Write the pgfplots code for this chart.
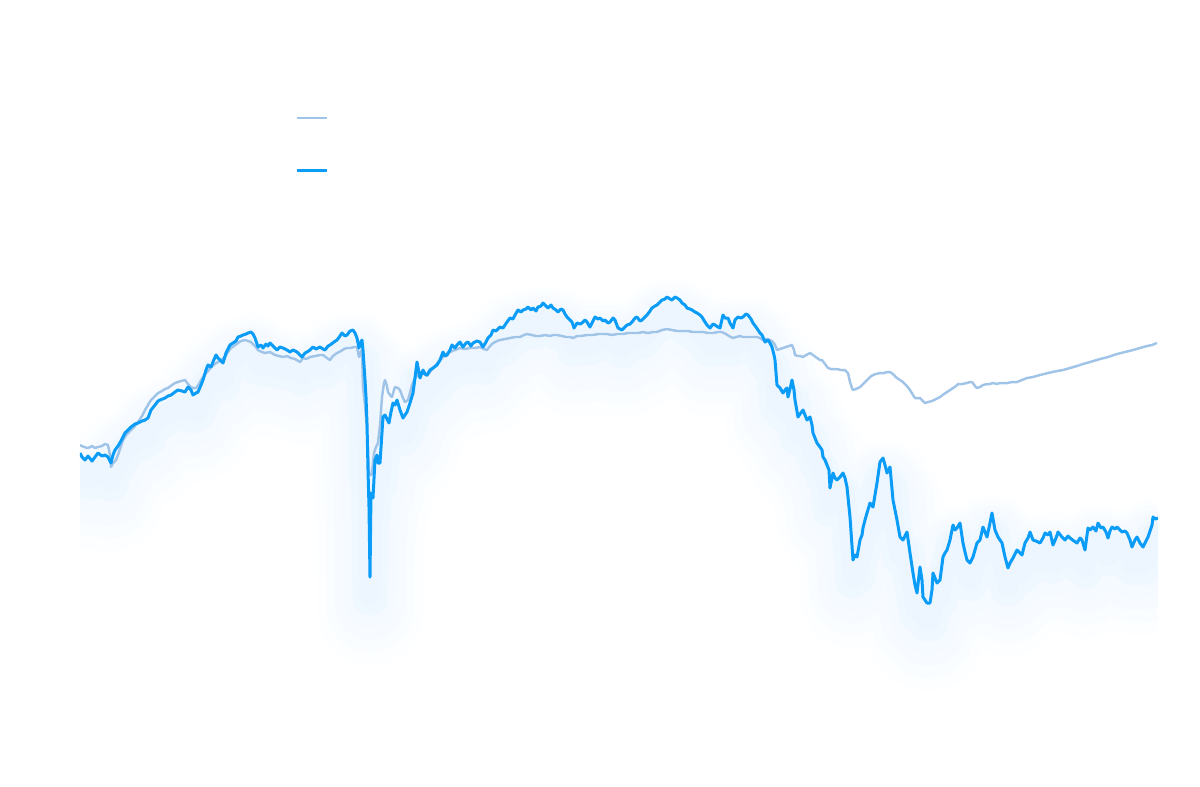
\documentclass[border=0pt]{standalone}
\usepackage{pgfplots}
\usepackage{pgfplotstable}
\pgfplotsset{compat=1.18}
\definecolor{mainblue}{RGB}{10,156,246}
\definecolor{lightblue}{RGB}{160,196,232}
\definecolor{glow}{RGB}{60,160,250}
\pgfplotstableread{
x y
80 453
82 457
85 460
88 456
92 461
95 457
98 453
102 456
105 455
108 457
111 463
113 455
115 450
118 446
121 441
125 433
128 430
131 427
135 424
138 423
142 421
145 420
148 418
151 410
155 405
158 401
160 400
165 398
168 396
171 395
175 392
178 390
182 391
185 392
188 387
191 390
193 395
196 393
198 392
201 385
203 380
206 370
208 365
211 367
213 362
216 355
218 358
220 360
223 363
226 353
230 345
233 343
236 341
238 337
241 336
243 335
246 334
248 333
251 332
253 334
255 338
258 347
261 345
263 348
266 344
268 346
270 343
273 346
277 350
280 347
283 348
287 350
290 352
293 350
297 352
300 355
302 357
305 353
307 352
310 350
313 347
316 349
320 347
323 349
325 350
328 346
330 345
334 342
337 340
340 336
342 333
345 336
347 335
350 331
353 330
355 333
357 338
359 348
361 342
362 340
363 350
365 380
366 397
367 423
368 470
369 507
370 577
371 493
373 498
375 460
377 455
378 463
380 463
383 417
385 415
387 419
389 423
391 412
393 403
395 405
397 400
400 410
403 418
405 415
407 412
410 403
413 393
415 378
417 362
420 378
423 370
425 374
427 375
430 370
433 368
437 365
440 360
443 352
445 356
447 355
450 350
452 345
455 348
457 345
460 342
463 347
466 343
468 342
471 346
473 343
477 341
480 342
483 347
486 342
488 338
491 335
493 330
496 331
500 327
503 328
507 322
510 318
513 319
515 315
518 310
521 312
523 310
526 309
528 307
531 310
533 308
536 311
538 307
541 306
543 303
546 306
548 308
551 305
553 308
556 310
558 312
561 309
563 310
565 314
567 317
570 320
572 322
574 328
577 323
580 324
582 323
585 320
587 322
590 327
593 321
595 317
598 319
600 318
603 321
605 320
608 323
610 322
613 318
615 320
618 328
620 329
622 330
625 327
627 325
630 324
632 322
635 318
637 317
640 321
642 320
645 317
647 315
650 311
652 308
655 306
657 305
660 302
662 300
665 299
667 297
670 299
672 300
675 297
677 298
680 300
682 303
685 305
687 308
690 309
692 310
695 312
697 313
700 315
702 317
705 322
707 325
710 328
713 324
715 325
718 327
720 328
723 315
725 318
728 318
730 323
733 328
735 320
738 317
741 318
743 317
746 314
748 315
751 319
753 323
756 327
758 330
760 333
762 335
765 342
768 340
770 343
772 347
774 355
775 360
777 385
780 388
783 393
785 390
787 388
788 397
790 389
792 380
794 390
795 400
798 417
800 414
803 410
805 415
807 420
810 417
812 425
813 433
815 438
817 443
820 447
822 450
823 457
825 460
827 465
829 470
830 488
833 473
835 478
837 480
840 477
843 473
845 478
847 487
850 517
853 560
855 555
857 557
860 540
862 535
863 528
865 520
867 513
870 503
873 507
875 495
877 483
880 462
883 458
885 465
887 473
890 467
893 500
895 510
897 520
900 537
903 540
905 536
907 532
910 553
913 573
915 585
917 593
920 567
922 580
923 597
925 600
927 603
930 603
932 590
933 573
935 578
937 583
940 580
943 557
945 553
947 550
950 540
953 525
955 530
957 528
960 523
963 543
965 552
967 560
970 563
973 557
975 550
977 543
980 540
983 527
985 532
987 537
990 523
992 513
995 530
998 537
1000 540
1002 543
1005 557
1008 568
1010 563
1013 558
1017 550
1020 553
1022 555
1025 543
1028 538
1030 532
1033 540
1036 541
1040 543
1043 538
1045 533
1048 535
1050 532
1053 545
1056 538
1058 532
1062 537
1065 540
1068 536
1070 538
1074 541
1077 543
1080 538
1082 540
1085 550
1088 528
1090 530
1093 527
1096 531
1098 523
1101 528
1103 527
1106 532
1108 538
1110 531
1112 527
1115 529
1117 527
1120 530
1122 532
1125 531
1127 533
1130 540
1132 547
1135 540
1137 537
1140 543
1143 547
1146 541
1148 537
1150 531
1152 525
1153 517
1155 519
1158 518
}\bluedata
\pgfplotstableread{
x y
80 445
84 447
88 448
92 446
95 448
98 447
102 446
105 444
108 445
110 455
111 467
113 463
116 460
119 452
123 440
127 434
131 430
135 426
138 422
142 416
145 410
148 405
151 400
155 396
158 393
162 391
165 389
168 388
172 385
175 383
178 382
181 381
185 380
188 384
191 387
193 388
196 388
199 384
201 380
204 376
206 373
209 370
211 367
215 364
218 362
221 360
225 357
228 352
231 348
234 346
238 343
241 341
245 340
248 341
251 342
255 346
258 350
262 352
265 353
270 352
275 355
279 356
283 357
287 356
291 358
295 359
300 362
303 358
306 359
310 357
315 356
320 355
323 355
327 358
330 360
333 356
337 353
341 351
344 349
347 348
351 348
354 347
357 347
359 357
361 351
362 350
363 387
365 405
367 430
368 450
369 473
371 475
372 473
374 453
376 447
378 443
380 425
382 397
384 383
385 380
387 386
388 392
390 395
392 397
394 390
395 387
398 388
400 390
403 398
405 402
408 400
410 393
412 385
415 378
418 375
420 373
424 374
427 376
430 372
435 366
440 360
445 355
450 352
455 350
460 348
465 349
470 348
475 348
480 347
484 349
487 350
490 346
493 343
497 341
500 340
505 339
510 338
515 337
520 337
524 335
527 334
532 335
536 336
540 336
545 335
550 336
553 335
557 335
562 336
566 337
570 337
573 338
577 336
581 336
587 335
593 335
598 334
602 334
607 334
612 335
617 334
623 334
628 333
633 333
638 333
643 332
648 333
653 332
657 332
662 330
667 329
672 330
677 331
683 331
688 331
693 332
698 332
703 332
708 333
713 333
718 332
722 332
726 334
729 336
733 338
736 337
740 336
743 337
747 337
750 337
753 337
757 337
760 338
763 340
767 339
770 340
773 342
775 345
777 350
780 349
783 348
786 347
789 346
792 345
794 350
795 355
798 356
800 356
803 357
806 355
810 353
813 355
817 358
820 360
822 360
825 364
828 368
831 369
834 369
837 369
841 370
845 370
848 373
850 382
852 388
853 390
856 389
860 387
863 384
867 380
870 377
873 375
876 374
880 373
884 373
887 372
890 372
893 374
897 378
900 380
903 382
906 385
910 390
913 395
915 398
918 398
920 398
923 401
925 403
928 402
932 401
936 399
940 397
944 394
947 392
950 390
953 388
956 386
958 384
962 384
967 383
970 382
972 382
975 386
977 388
980 387
983 385
987 384
990 384
993 383
997 384
1000 383
1003 383
1007 383
1012 382
1017 382
1022 380
1027 378
1033 377
1040 375
1048 373
1057 371
1063 370
1070 368
1077 366
1083 364
1090 362
1100 359
1108 357
1117 354
1125 352
1133 350
1140 348
1147 346
1152 345
1157 343
}\lightdata
\begin{document}
\begin{tikzpicture}
\begin{axis}[
  width=10.78cm, height=7.86cm, scale only axis,
  xmin=80, xmax=1158, ymin=0, ymax=786, y dir=reverse,
  hide axis, clip=true,
  glowline/.style={glow, line join=round, line cap=butt},
]
% soft glow beneath the main series
\addplot[glowline, line width=30pt, opacity=0.010, yshift=-10pt] table[x=x,y=y] {\bluedata};
\addplot[glowline, line width=25pt, opacity=0.012, yshift=-9pt] table[x=x,y=y] {\bluedata};
\addplot[glowline, line width=20pt, opacity=0.014, yshift=-8pt] table[x=x,y=y] {\bluedata};
\addplot[glowline, line width=15pt, opacity=0.016, yshift=-7pt] table[x=x,y=y] {\bluedata};
\addplot[glowline, line width=10pt, opacity=0.018, yshift=-6pt] table[x=x,y=y] {\bluedata};
\addplot[glowline, line width=6pt, opacity=0.018, yshift=-5pt] table[x=x,y=y] {\bluedata};
% series
\addplot[lightblue, line width=0.7pt, line join=round] table[x=x,y=y] {\lightdata};
\addplot[mainblue, line width=0.85pt, line join=round] table[x=x,y=y] {\bluedata};
% legend samples (no text in the reference)
\addplot[lightblue, line width=0.7pt] coordinates {(297,118) (327,118)};
\addplot[mainblue, line width=0.85pt] coordinates {(297,170) (327,170)};
\end{axis}
\pgfresetboundingbox
\useasboundingbox ([xshift=-0.8cm]current axis.south west) rectangle ([xshift=0.42cm]current axis.north east);
\end{tikzpicture}
\end{document}
